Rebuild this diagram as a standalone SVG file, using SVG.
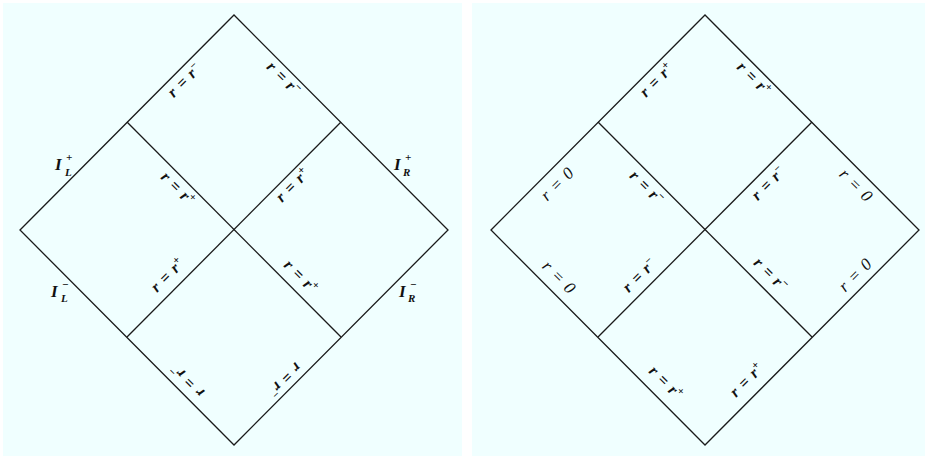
<svg xmlns="http://www.w3.org/2000/svg" width="928" height="459" viewBox="0 0 928 459">
<style>
.panel{fill:#f0ffff;stroke:none}
.ln{fill:none;stroke:#1a1a1a;stroke-width:1.3}
.lb{font-family:"Liberation Serif","DejaVu Serif",serif;font-style:italic;font-weight:bold;font-size:16px;word-spacing:2px;fill:#111;text-anchor:middle}
.z{font-family:"Liberation Serif","DejaVu Serif",serif;font-style:italic;font-size:17px;word-spacing:2px;fill:#111;text-anchor:middle}
.I{font-family:"Liberation Serif","DejaVu Serif",serif;font-style:italic;font-weight:bold;font-size:17px;fill:#111}
.s{font-size:11px}
</style>
<rect width="928" height="459" fill="#ffffff"/>
<rect class="panel" x="3" y="3" width="459" height="453"/>
<rect class="panel" x="472" y="3" width="453" height="453"/>
<g id="connectors">
<polygon class="ln" points="20,230 234,15 448,230 234,445"/>
<line class="ln" x1="127" y1="122" x2="341" y2="337"/>
<line class="ln" x1="341" y1="122" x2="127" y2="337"/>
<polygon class="ln" points="491,230 705,15 919,230 705,445"/>
<line class="ln" x1="598" y1="122" x2="812" y2="337"/>
<line class="ln" x1="812" y1="122" x2="598" y2="337"/>
</g>
<g id="left-labels">
<text class="lb" transform="translate(188,84) rotate(-45)">r = r<tspan class="s" dy="-6">−</tspan></text>
<text class="lb" transform="translate(280,82) rotate(45)">r = r<tspan class="s" dy="-6">−</tspan></text>
<text class="lb" transform="translate(174,192) rotate(45)">r = r<tspan class="s" dy="-6">+</tspan></text>
<text class="lb" transform="translate(296,189) rotate(-45)">r = r<tspan class="s" dy="-6">+</tspan></text>
<text class="lb" transform="translate(171,279) rotate(-45)">r = r<tspan class="s" dy="-6">+</tspan></text>
<text class="lb" transform="translate(297,280) rotate(45)">r = r<tspan class="s" dy="-6">+</tspan></text>
<text class="lb" transform="translate(191,377) rotate(-135)">r = r<tspan class="s" dy="-6">−</tspan></text>
<text class="lb" transform="translate(281,376) rotate(135)">r = r<tspan class="s" dy="-6">−</tspan></text>
</g>
<g id="scri-labels">
<text class="I" x="55" y="170">I</text><text class="I s" x="66" y="161">+</text><text class="I s" x="65" y="176">L</text>
<text class="I" x="51" y="297">I</text><text class="I s" x="62" y="288">−</text><text class="I s" x="61" y="302">L</text>
<text class="I" x="394" y="170">I</text><text class="I s" x="405" y="161">+</text><text class="I s" x="403" y="176">R</text>
<text class="I" x="399" y="297">I</text><text class="I s" x="410" y="288">−</text><text class="I s" x="408" y="302">R</text>
</g>
<g id="right-labels">
<text class="lb" transform="translate(660,84) rotate(-45)">r = r<tspan class="s" dy="-6">+</tspan></text>
<text class="lb" transform="translate(750,82) rotate(45)">r = r<tspan class="s" dy="-6">+</tspan></text>
<text class="z" transform="translate(561,188) rotate(-45)">r = 0</text>
<text class="lb" transform="translate(643,191) rotate(45)">r = r<tspan class="s" dy="-6">−</tspan></text>
<text class="lb" transform="translate(772,187) rotate(-45)">r = r<tspan class="s" dy="-6">−</tspan></text>
<text class="z" transform="translate(852,189) rotate(45)">r = 0</text>
<text class="z" transform="translate(555,281) rotate(45)">r = 0</text>
<text class="lb" transform="translate(643,279) rotate(-45)">r = r<tspan class="s" dy="-6">−</tspan></text>
<text class="lb" transform="translate(767,278) rotate(45)">r = r<tspan class="s" dy="-6">−</tspan></text>
<text class="z" transform="translate(859,279) rotate(-45)">r = 0</text>
<text class="lb" transform="translate(662,386) rotate(45)">r = r<tspan class="s" dy="-6">+</tspan></text>
<text class="lb" transform="translate(750,384) rotate(-45)">r = r<tspan class="s" dy="-6">+</tspan></text>
</g>
</svg>
